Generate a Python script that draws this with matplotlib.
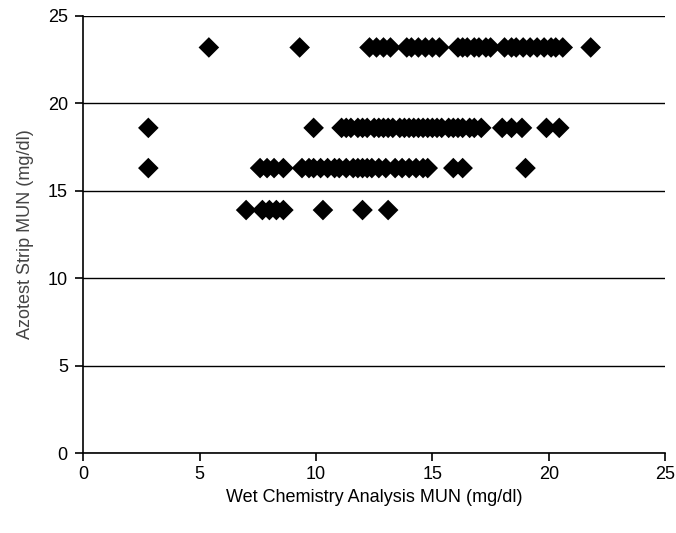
import matplotlib
matplotlib.use("Agg")
import matplotlib.pyplot as plt

plt.rcParams['font.family'] = ['Liberation Sans', 'DejaVu Sans']

# Wet chemistry MUN (x) grouped by Azotest strip reading (y)
x_232 = [5.4, 9.3, 12.3, 12.6, 12.9, 13.2, 13.9, 14.1, 14.4, 14.7, 15.0, 15.3,
         16.1, 16.3, 16.5, 16.8, 17.0, 17.3, 17.5, 18.1, 18.4, 18.6, 18.9,
         19.2, 19.5, 19.8, 20.1, 20.3, 20.6, 21.8]
x_186 = [2.8, 9.9, 11.1, 11.3, 11.5, 11.8, 12.0, 12.2, 12.5, 12.7, 12.9, 13.1,
         13.3, 13.6, 13.8, 14.0, 14.2, 14.4, 14.6, 14.8, 15.0, 15.2, 15.4,
         15.7, 15.9, 16.1, 16.3, 16.6, 16.8, 17.1, 18.0, 18.4, 18.85, 19.9, 20.45]
x_163 = [2.8, 7.6, 7.9, 8.2, 8.6, 9.4, 9.7, 9.9, 10.2, 10.5, 10.8, 11.0, 11.3,
         11.6, 11.8, 12.0, 12.2, 12.4, 12.7, 13.0, 13.4, 13.7, 14.0, 14.3,
         14.6, 14.8, 15.9, 16.3, 19.0]
x_139 = [7.0, 7.7, 8.0, 8.3, 8.6, 10.3, 12.0, 13.1]
y_levels = [23.2, 18.6, 16.3, 13.9]

x_ticks = [0, 5, 10, 15, 20, 25]
y_ticks = [0, 5, 10, 15, 20, 25]

fig = plt.figure(figsize=(6.76, 5.33), dpi=100)
ax = fig.add_axes([0.123, 0.150, 0.861, 0.820])

for xs, yv in zip([x_232, x_186, x_163, x_139], y_levels):
    ax.scatter(xs, [yv] * len(xs), marker='D', s=110, color='black',
               edgecolors='none', zorder=3)

ax.set_xlim(0, 25)
ax.set_ylim(0, 25)
ax.set_xticks(x_ticks)
ax.set_yticks(y_ticks)
ax.yaxis.grid(True, color='black', linewidth=1.0)
ax.set_axisbelow(True)
for s in ['top', 'right']:
    ax.spines[s].set_visible(False)
for s in ['left', 'bottom']:
    ax.spines[s].set_linewidth(1.2)
    ax.spines[s].set_color('black')
ax.tick_params(axis='both', direction='out', length=6, width=1.2,
               labelsize=13, colors='black')
ax.tick_params(axis='x', pad=3)
ax.tick_params(axis='y', pad=5)
ax.set_xlabel('Wet Chemistry Analysis MUN (mg/dl)', fontsize=13, labelpad=5)
ax.set_ylabel('Azotest Strip MUN (mg/dl)', fontsize=13, color='#444444', labelpad=10)

fig.savefig('out.png', dpi=100)
